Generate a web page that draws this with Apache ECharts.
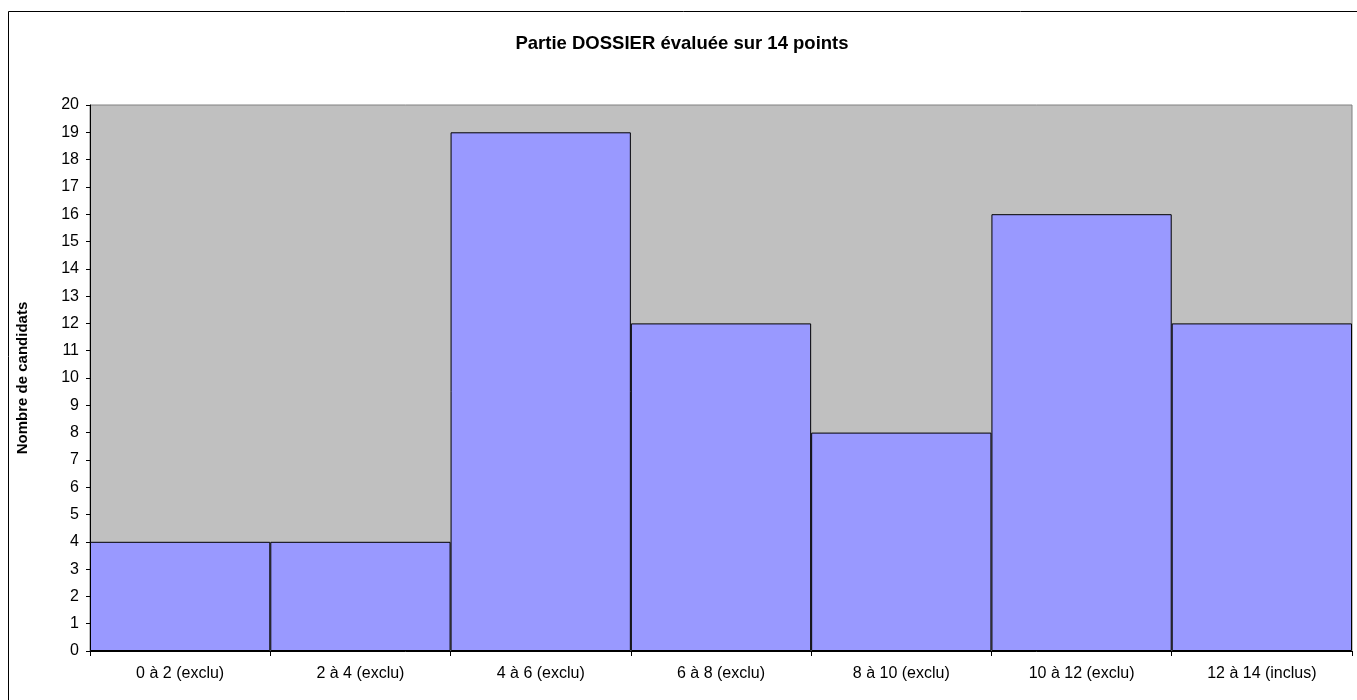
<!DOCTYPE html>
<html>
<head>
<meta charset="utf-8">
<script src="https://cdn.jsdelivr.net/npm/echarts@6/dist/echarts.min.js"></script>
<style>html,body{margin:0;padding:0;background:#fff;}#c{width:1357px;height:700px;}</style>
</head>
<body>
<div id="c"></div>
<script>
const categories = ["0 à 2 (exclu)", "2 à 4 (exclu)", "4 à 6 (exclu)", "6 à 8 (exclu)", "8 à 10 (exclu)", "10 à 12 (exclu)", "12 à 14 (inclus)"];
const candidats = [4, 4, 19, 12, 8, 16, 12];
const titleText = "Partie DOSSIER évaluée sur 14 points";
const yName = "Nombre de candidats";

const chart = echarts.init(document.getElementById('c'), null, {renderer: 'canvas'});
chart.setOption({
  animation: false,
  backgroundColor: '#fff',
  title: {
    text: titleText, left: 677, top: 29, textAlign: 'center',
    textStyle: {fontFamily: 'Liberation Sans, Arial', fontSize: 18.5, fontWeight: 'bold', color: '#000'}
  },
  graphic: [{
    type: 'rect', shape: {x: 8.5, y: 11.5, width: 1400, height: 800},
    style: {fill: 'none', stroke: '#000', lineWidth: 1}, silent: true, z: 100
  }],
  grid: {
    left: 90, right: 5, top: 105, bottom: 49, show: true,
    backgroundColor: '#C0C0C0', borderColor: '#808080', borderWidth: 1
  },
  xAxis: {
    type: 'category', data: categories,
    axisLine: {lineStyle: {color: '#000', width: 1}},
    axisTick: {show: true, length: 5, lineStyle: {color: '#000'}},
    axisLabel: {fontFamily: 'Liberation Sans, Arial', fontSize: 16, color: '#000', margin: 15}
  },
  yAxis: {
    type: 'value', min: 0, max: 20, interval: 1,
    name: yName, nameLocation: 'middle', nameGap: 60, nameRotate: 90,
    nameTextStyle: {fontFamily: 'Liberation Sans, Arial', fontSize: 15, fontWeight: 'bold', color: '#000'},
    axisLine: {show: true, lineStyle: {color: '#000', width: 1}},
    axisTick: {show: true, length: 4, lineStyle: {color: '#000'}},
    splitLine: {show: false},
    axisLabel: {fontFamily: 'Liberation Sans, Arial', fontSize: 16, color: '#000', margin: 11}
  },
  series: [{
    type: 'bar', data: candidats, barCategoryGap: '0%',
    itemStyle: {color: '#9999FF', borderColor: '#000', borderWidth: 1}
  }]
});
</script>
</body>
</html>
